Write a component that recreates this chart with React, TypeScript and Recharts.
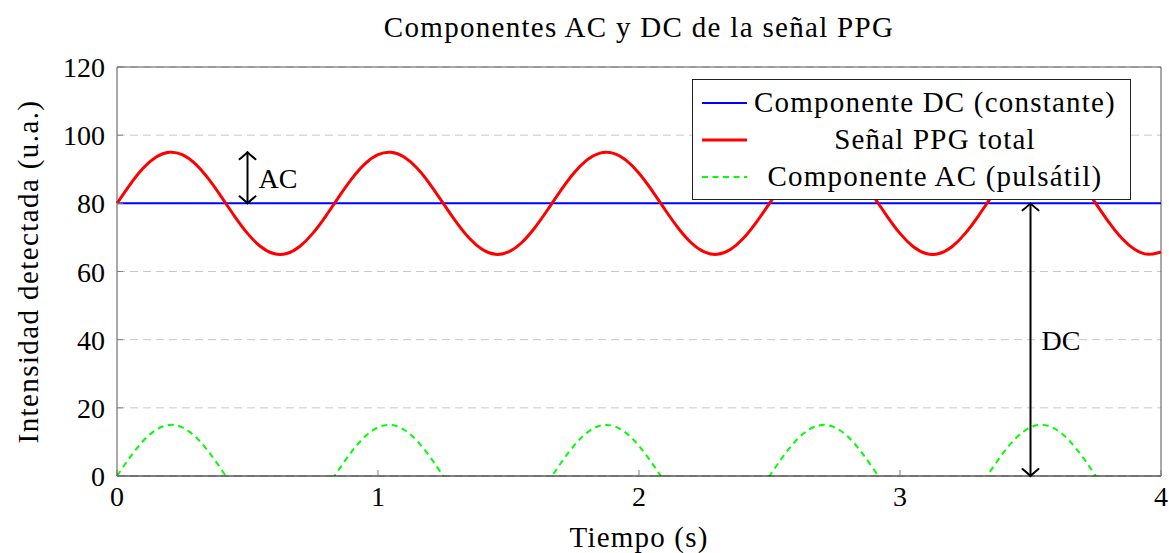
import { LineChart, Line, XAxis, YAxis, CartesianGrid, ReferenceLine, Legend } from 'recharts';

const FONT = 'Liberation Serif, DejaVu Serif, serif';

// sample times (s)
const times = [
  0, 0.05, 0.1, 0.15, 0.2, 0.25, 0.3, 0.35, 0.4, 0.45, 0.5, 0.55, 0.6, 0.65, 0.7, 0.75, 0.8, 0.85, 0.9, 0.95,
  1, 1.05, 1.1, 1.15, 1.2, 1.25, 1.3, 1.35, 1.4, 1.45, 1.5, 1.55, 1.6, 1.65, 1.7, 1.75, 1.8, 1.85, 1.9, 1.95,
  2, 2.05, 2.1, 2.15, 2.2, 2.25, 2.3, 2.35, 2.4, 2.45, 2.5, 2.55, 2.6, 2.65, 2.7, 2.75, 2.8, 2.85, 2.9, 2.95,
  3, 3.05, 3.1, 3.15, 3.2, 3.25, 3.3, 3.35, 3.4, 3.45, 3.5, 3.55, 3.6, 3.65, 3.7, 3.75, 3.8, 3.85, 3.9, 3.95,
  4,
];

const ppgTotal = [
  80, 85.52, 90.27, 93.57, 94.97, 94.27, 91.56, 87.23, 81.88, 76.27, 71.18, 67.34, 65.27, 65.27, 67.34, 71.18,
  76.27, 81.88, 87.23, 91.56, 94.27, 94.97, 93.57, 90.27, 85.52,
  80, 74.48, 69.73, 66.43, 65.03, 65.73, 68.44, 72.77, 78.12, 83.73, 88.82, 92.66, 94.73, 94.73, 92.66, 88.82,
  83.73, 78.12, 72.77, 68.44, 65.73, 65.03, 66.43, 69.73, 74.48,
  80, 85.52, 90.27, 93.57, 94.97, 94.27, 91.56, 87.23, 81.88, 76.27, 71.18, 67.34, 65.27, 65.27, 67.34, 71.18,
  76.27, 81.88, 87.23, 91.56, 94.27, 94.97, 93.57, 90.27, 85.52,
  80, 74.48, 69.73, 66.43, 65.03, 65.73,
];

const acComponent = [
  0, 5.52, 10.27, 13.57, 14.97, 14.27, 11.56, 7.23, 1.88, -3.73, -8.82, -12.66, -14.73, -14.73, -12.66, -8.82,
  -3.73, 1.88, 7.23, 11.56, 14.27, 14.97, 13.57, 10.27, 5.52,
  0, -5.52, -10.27, -13.57, -14.97, -14.27, -11.56, -7.23, -1.88, 3.73, 8.82, 12.66, 14.73, 14.73, 12.66, 8.82,
  3.73, -1.88, -7.23, -11.56, -14.27, -14.97, -13.57, -10.27, -5.52,
  0, 5.52, 10.27, 13.57, 14.97, 14.27, 11.56, 7.23, 1.88, -3.73, -8.82, -12.66, -14.73, -14.73, -12.66, -8.82,
  -3.73, 1.88, 7.23, 11.56, 14.27, 14.97, 13.57, 10.27, 5.52,
  0, -5.52, -10.27, -13.57, -14.97, -14.27,
];

const dcTimes = [0, 4];
const dcLevel = [80, 80];

const xTicks = [0, 1, 2, 3, 4];
const yTicks = [0, 20, 40, 60, 80, 100, 120];

const acArrow = { x: 0.5, from: 80, to: 95, label: 'AC' };
const dcArrow = { x: 3.5, from: 0, to: 80, label: 'DC' };

const dcData = dcTimes.map((t, i) => ({ t, dc: dcLevel[i] }));
const ppgData = times.map((t, i) => ({ t, ppg: ppgTotal[i] }));
const acData = times.map((t, i) => ({ t, ac: acComponent[i] }));

const legendItems = [
  { name: 'Componente DC (constante)', color: '#0000ff', width: 2, dash: undefined },
  { name: 'Señal PPG total', color: '#ff0000', width: 3, dash: undefined },
  { name: 'Componente AC (pulsátil)', color: '#00ff00', width: 2, dash: '6 4.5' },
];

const FRAME = '#555';
const TICK = { stroke: '#808080' };

function XTick({ x, y, payload }: any) {
  return (
    <text x={x} y={y} dy={30} textAnchor="middle" fontFamily={FONT} fontSize={28} fill="#000">
      {payload.value}
    </text>
  );
}

function YTick({ x, y, payload }: any) {
  return (
    <text x={x - 12} y={y} dy={10} textAnchor="end" fontFamily={FONT} fontSize={28} fill="#000">
      {payload.value}
    </text>
  );
}

function DoubleArrow({ x1, y1, y2, text }: any) {
  const top = Math.min(y1, y2);
  const bot = Math.max(y1, y2);
  const x = x1;
  return (
    <g>
      <line x1={x} y1={top} x2={x} y2={bot} stroke="#000" strokeWidth={2} />
      <path
        d={`M${x - 8},${top + 7} Q${x - 2},${top + 2} ${x},${top} Q${x + 2},${top + 2} ${x + 8},${top + 7}`}
        fill="none"
        stroke="#000"
        strokeWidth={2}
        strokeLinecap="round"
      />
      <path
        d={`M${x - 8},${bot - 7} Q${x - 2},${bot - 2} ${x},${bot} Q${x + 2},${bot - 2} ${x + 8},${bot - 7}`}
        fill="none"
        stroke="#000"
        strokeWidth={2}
        strokeLinecap="round"
      />
      <text x={x + 11} y={(top + bot) / 2} dy={10} fontFamily={FONT} fontSize={28} fill="#000">
        {text}
      </text>
    </g>
  );
}

function LegendBox() {
  return (
    <svg width={439} height={121} style={{ display: 'block' }}>
      <rect x={0.5} y={0.5} width={438} height={120} fill="#fff" stroke="#222" strokeWidth={1} />
      {legendItems.map((it, i) => {
        const cy = 24 + i * 37;
        return (
          <g key={it.name}>
            <line x1={10} x2={55} y1={cy} y2={cy} stroke={it.color} strokeWidth={it.width} strokeDasharray={it.dash} />
            <text
              x={243}
              y={cy}
              dy={9}
              textAnchor="middle"
              fontFamily={FONT}
              fontSize={29}
              letterSpacing={1.2}
              fill="#000"
            >
              {it.name}
            </text>
          </g>
        );
      })}
    </svg>
  );
}

export default function App() {
  return (
    <div style={{ position: 'absolute', left: 0, top: 0, width: 1169, height: 553, background: '#fff' }}>
      <div
        style={{
          position: 'absolute',
          left: 117,
          top: 13,
          width: 1044,
          textAlign: 'center',
          fontFamily: FONT,
          fontSize: 29,
          lineHeight: '29px',
          letterSpacing: 1.3,
          color: '#000',
        }}
      >
        Componentes AC y DC de la señal PPG
      </div>
      <LineChart width={1169} height={553} margin={{ top: 67, right: 8, bottom: 0, left: 0 }}>
        <CartesianGrid vertical={false} stroke="#c8c8c8" strokeDasharray="8 5" />
        <XAxis
          type="number"
          dataKey="t"
          domain={[0, 4]}
          ticks={xTicks}
          height={77}
          tickSize={-6}
          tickMargin={6}
          tickLine={TICK}
          tick={<XTick />}
          stroke="#000"
          label={{
            content: ({ viewBox }: any) => (
              <text
                x={viewBox.x + viewBox.width / 2}
                y={viewBox.y + 71}
                textAnchor="middle"
                fontFamily={FONT}
                fontSize={29}
                letterSpacing={1.2}
                fill="#000"
              >
                Tiempo (s)
              </text>
            ),
          }}
        />
        <YAxis
          type="number"
          domain={[0, 120]}
          ticks={yTicks}
          allowDataOverflow
          width={117}
          tickSize={-6}
          tickMargin={6}
          tickLine={TICK}
          tick={<YTick />}
          stroke={FRAME}
          label={{
            content: ({ viewBox }: any) => {
              const cx = 38;
              const cy = viewBox.y + viewBox.height / 2;
              return (
                <text
                  x={cx}
                  y={cy}
                  transform={`rotate(-90 ${cx} ${cy})`}
                  textAnchor="middle"
                  fontFamily={FONT}
                  fontSize={29}
                  letterSpacing={1.4}
                  fill="#000"
                >
                  Intensidad detectada (u.a.)
                </text>
              );
            },
          }}
        />
        <ReferenceLine y={120} stroke={FRAME} />
        <ReferenceLine x={4} stroke={FRAME} />
        <Line
          data={dcData}
          dataKey="dc"
          name="Componente DC (constante)"
          stroke="#0000ff"
          strokeWidth={2}
          dot={false}
          isAnimationActive={false}
        />
        <Line
          data={ppgData}
          dataKey="ppg"
          type="natural"
          name="Señal PPG total"
          stroke="#ff0000"
          strokeWidth={3}
          dot={false}
          isAnimationActive={false}
        />
        <Line
          data={acData}
          dataKey="ac"
          type="natural"
          name="Componente AC (pulsátil)"
          stroke="#00ff00"
          strokeWidth={2}
          strokeDasharray="6 4.5"
          dot={false}
          isAnimationActive={false}
        />
        <ReferenceLine
          segment={[{ x: acArrow.x, y: acArrow.from }, { x: acArrow.x, y: acArrow.to }]}
          shape={(p: any) => <DoubleArrow {...p} text={acArrow.label} />}
        />
        <ReferenceLine
          segment={[{ x: dcArrow.x, y: dcArrow.from }, { x: dcArrow.x, y: dcArrow.to }]}
          shape={(p: any) => <DoubleArrow {...p} text={dcArrow.label} />}
        />
        <Legend
          layout="vertical"
          align="center"
          verticalAlign="middle"
          wrapperStyle={{ left: 692, top: 79, width: 439, height: 121 }}
          content={() => <LegendBox />}
        />
      </LineChart>
    </div>
  );
}
